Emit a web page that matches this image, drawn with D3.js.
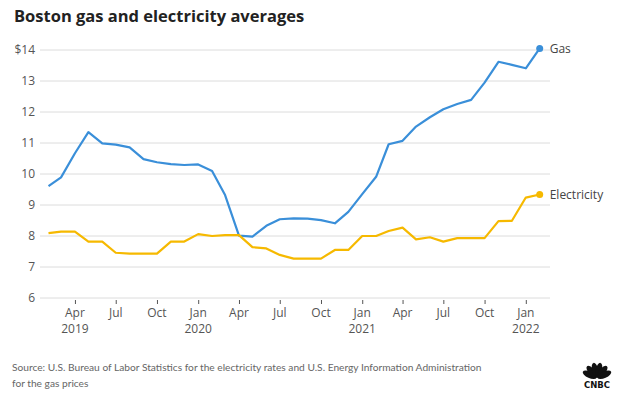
<!DOCTYPE html>
<html><head><meta charset="utf-8">
<script src="https://cdn.jsdelivr.net/npm/d3@7"></script>
<style>body{margin:0;background:#fff}svg{display:block}</style>
</head><body>
<svg id="c" width="630" height="402"></svg>
<script>
const months = [
 "2019-02","2019-03","2019-04","2019-05","2019-06","2019-07","2019-08","2019-09","2019-10","2019-11","2019-12",
 "2020-01","2020-02","2020-03","2020-04","2020-05","2020-06","2020-07","2020-08","2020-09","2020-10","2020-11","2020-12",
 "2021-01","2021-02","2021-03","2021-04","2021-05","2021-06","2021-07","2021-08","2021-09","2021-10","2021-11","2021-12",
 "2022-01","2022-02"];
const gas = [9.61,9.89,10.67,11.35,10.99,10.95,10.86,10.48,10.38,10.32,10.29,
 10.31,10.10,9.32,8.01,7.98,8.33,8.54,8.57,8.56,8.51,8.41,8.78,
 9.35,9.91,10.96,11.07,11.53,11.83,12.09,12.26,12.39,12.95,13.62,13.52,
 13.41,14.05];
const electricity = [8.09,8.14,8.14,7.82,7.82,7.46,7.43,7.43,7.43,7.82,7.82,
 8.06,8.00,8.03,8.03,7.64,7.60,7.39,7.27,7.27,7.27,7.55,7.55,
 8.00,8.00,8.16,8.27,7.89,7.96,7.82,7.93,7.93,7.93,8.48,8.49,
 9.24,9.34];
const yTicks = [6,7,8,9,10,11,12,13,14];
const xTicks = ["2019-04","2019-07","2019-10","2020-01","2020-04","2020-07","2020-10","2021-01","2021-04","2021-07","2021-10","2022-01"];
const seriesNames = ["Gas","Electricity"];
const title = "Boston gas and electricity averages";
const sourceLines = ["Source: U.S. Bureau of Labor Statistics for the electricity rates and U.S. Energy Information Administration","for the gas prices"];

const parse = d3.timeParse("%Y-%m");
const font = "'Open Sans', 'Lato', sans-serif";
const svg = d3.select("#c");
const x = d3.scaleTime().domain([parse("2019-02"), parse("2022-02")]).range([48.5, 539.7]);
const y = d3.scaleLinear().domain([6,14]).range([298,50]);
const gridX0 = 40, gridX1 = 550;

svg.append("text").attr("x",14).attr("y",22).text(title)
  .attr("font-family","'Open Sans', sans-serif").attr("font-weight",700).attr("font-size",16.5).attr("fill","#222");

// grid
const g = svg.append("g");
g.selectAll("line.grid").data(yTicks).join("line")
  .attr("x1",gridX0).attr("x2",gridX1).attr("y1",d=>y(d)).attr("y2",d=>y(d))
  .attr("stroke","#dcdcdc").attr("stroke-width",1);
g.selectAll("text.yl").data(yTicks).join("text")
  .attr("x",35).attr("y",d=>y(d)+4).attr("text-anchor","end")
  .attr("font-family",font).attr("font-size",12).attr("fill","#555")
  .text(d=> d===14 ? "$14" : d);

// x axis
const xAxis = d3.axisBottom(x).tickValues(xTicks.map(parse)).tickSize(5).tickFormat("");
const ax = svg.append("g").attr("transform","translate(0,298)").call(xAxis);
ax.select(".domain").remove();
ax.selectAll(".tick line").attr("stroke","#555").attr("y1",2).attr("y2",6);
const fmtM = d3.timeFormat("%b"), fmtY = d3.timeFormat("%Y");
xTicks.forEach(t=>{
  const d = parse(t);
  svg.append("text").attr("x",x(d)).attr("y",317).attr("text-anchor","middle")
    .attr("font-family",font).attr("font-size",12).attr("fill","#555").text(fmtM(d));
  if (d.getMonth()===0 || (t==="2019-04"))
    svg.append("text").attr("x",x(d)).attr("y",333).attr("text-anchor","middle")
      .attr("font-family",font).attr("font-size",12).attr("fill","#555").text(fmtY(d));
});

const colors = ["#3a8fd9","#f6b900"];
[gas, electricity].forEach((vals,i)=>{
  const data = vals.map((v,j)=>({d:parse(months[j]),v}));
  const line = d3.line().x(p=>x(p.d)).y(p=>y(p.v));
  svg.append("path").datum(data).attr("d",line).attr("fill","none")
    .attr("stroke",colors[i]).attr("stroke-width",2.2).attr("stroke-linejoin","round");
  const last = data[data.length-1];
  svg.append("circle").attr("cx",x(last.d)).attr("cy",y(last.v)).attr("r",3.5).attr("fill",colors[i]);
  svg.append("text").attr("x",x(last.d)+10).attr("y",y(last.v)+5)
    .attr("font-family",font).attr("font-size",12).attr("fill","#444").text(seriesNames[i]);
});

sourceLines.forEach((s,i)=>{
  svg.append("text").attr("x",12).attr("y",371+i*16).attr("font-family","Lato, sans-serif")
    .attr("font-size",10.2).attr("fill","#666").text(s);
});

// CNBC logo
const logo = svg.append("g").attr("transform","translate(597,378)");
[-66,-40,-13,13,40,66].forEach(a=>{
  logo.append("ellipse").attr("cx",0).attr("cy",-8).attr("rx",3.2).attr("ry",7.5)
    .attr("transform",`rotate(${a})`).attr("fill","#111");
});
logo.append("text").attr("x",0).attr("y",10).attr("text-anchor","middle")
  .attr("font-family","'DejaVu Sans', sans-serif").attr("font-weight",700)
  .attr("font-size",8.5).attr("fill","#111").text("CNBC");
</script>
</body></html>
